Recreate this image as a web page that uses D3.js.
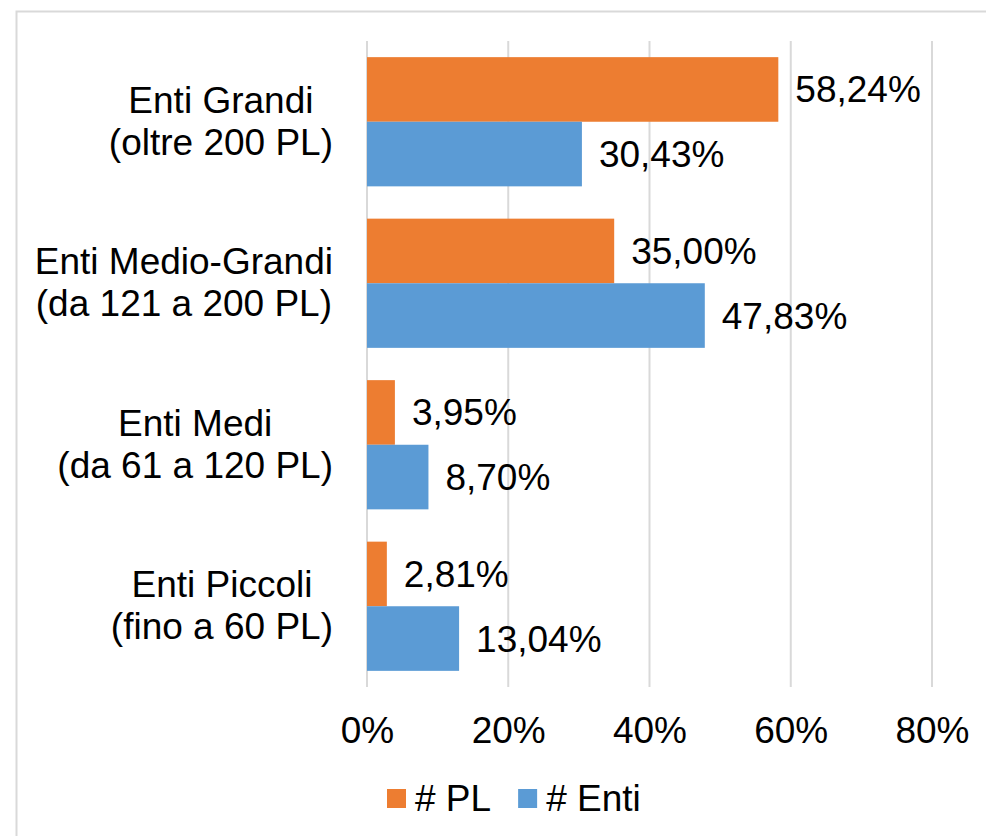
<!DOCTYPE html>
<html><head><meta charset="utf-8">
<script src="https://cdn.jsdelivr.net/npm/d3@7"></script>
<style>body{margin:0;background:#fff}svg{display:block}text{font-family:"Liberation Sans",Arial,sans-serif;fill:#000}</style>
</head><body>
<svg id="c" width="986" height="836"></svg>
<script>
const categories = [["Enti Grandi","(oltre 200 PL)"],["Enti Medio-Grandi","(da 121 a 200 PL)"],["Enti Medi","(da 61 a 120 PL)"],["Enti Piccoli","(fino a 60 PL)"]];
const seriesNames = ["# PL","# Enti"];
const plValues = [58.24, 35.00, 3.95, 2.81];
const entiValues = [30.43, 47.83, 8.70, 13.04];
const tickValues = [0, 20, 40, 60, 80];
const colors = ["#ED7D31","#5B9BD5"];

const svg = d3.select("#c");
const fs = 37;
svg.append("rect").attr("x",16.5).attr("y",11.5).attr("width",1100).attr("height",1000)
  .attr("fill","none").attr("stroke","#d9d9d9").attr("stroke-width",2);

const x = d3.scaleLinear().domain([0,80]).range([367,932]);
const y = d3.scaleBand().domain(d3.range(categories.length)).range([41,687]).paddingInner(0.2).paddingOuter(0.1);
const sub = d3.scaleBand().domain([0,1]).range([0,y.bandwidth()]);

// gridlines
svg.append("g").selectAll("line").data(tickValues).join("line")
  .attr("x1",d=>x(d)).attr("x2",d=>x(d)).attr("y1",41).attr("y2",687)
  .attr("stroke","#d9d9d9").attr("stroke-width",2);

const series = [plValues, entiValues];
series.forEach((vals,si)=>{
  const g = svg.append("g");
  g.selectAll("rect").data(vals).join("rect")
    .attr("x",x(0)).attr("y",(d,i)=>y(i)+sub(si))
    .attr("width",d=>x(d)-x(0)).attr("height",sub.bandwidth())
    .attr("fill",colors[si]);
  g.selectAll("text").data(vals).join("text")
    .attr("x",d=>x(d)+17).attr("y",(d,i)=>y(i)+sub(si)+sub.bandwidth()/2+13)
    .attr("font-size",fs)
    .text(d=>d.toFixed(2).replace(".",",")+"%");
});

// category labels
categories.forEach((lines,i)=>{
  const g = svg.append("g");
  const cy = y(i)+y.bandwidth()/2;
  const ts = lines.map((l,j)=>g.append("text").attr("font-size",fs).attr("text-anchor","middle")
    .attr("y",cy+(j-0.5)*42+12).text(l));
  const maxW = d3.max(ts,t=>t.node().getComputedTextLength());
  ts.forEach(t=>t.attr("x",333-maxW/2));
});

// x axis tick labels
const ax = svg.append("g").attr("transform","translate(0,687)").call(d3.axisBottom(x).tickValues(tickValues).tickSize(0).tickPadding(0).tickFormat(d=>d+"%"));
ax.select(".domain").remove();
ax.selectAll("text").attr("font-size",fs).attr("font-family","Liberation Sans, Arial, sans-serif").attr("fill","#000").attr("dy",null).attr("y",56);

// legend
const leg = svg.append("g");
let lx = 387;
seriesNames.forEach((n,i)=>{
  leg.append("rect").attr("x",lx).attr("y",789).attr("width",19).attr("height",19).attr("fill",colors[i]);
  const t = leg.append("text").attr("x",lx+28).attr("y",811).attr("font-size",fs).text(n);
  lx = lx + 28 + t.node().getComputedTextLength() + 27;
});
</script>
</body></html>
